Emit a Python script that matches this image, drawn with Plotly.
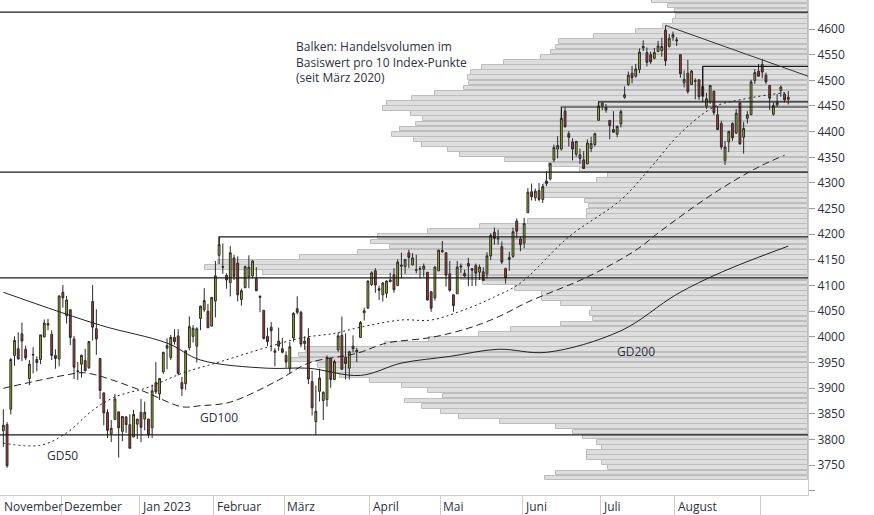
import plotly.graph_objects as go

# S&P 500 daily candles, 8 Nov 2022 - 13 Sep 2023
dates = (
    ["2022-11-%02d" % d for d in [8, 9, 10, 11, 14, 15, 16, 17, 18, 21, 22, 23, 25, 28, 29, 30]]
    + ["2022-12-%02d" % d for d in [1, 2, 5, 6, 7, 8, 9, 12, 13, 14, 15, 16, 19, 20, 21, 22, 23, 27, 28, 29, 30]]
    + ["2023-01-%02d" % d for d in [3, 4, 5, 6, 9, 10, 11, 12, 13, 17, 18, 19, 20, 23, 24, 25, 26, 27, 30, 31]]
    + ["2023-02-%02d" % d for d in [1, 2, 3, 6, 7, 8, 9, 10, 13, 14, 15, 16, 17, 21, 22, 23, 24, 27, 28]]
    + ["2023-03-%02d" % d for d in [1, 2, 3, 6, 7, 8, 9, 10, 13, 14, 15, 16, 17, 20, 21, 22, 23, 24, 27, 28, 29, 30, 31]]
    + ["2023-04-%02d" % d for d in [3, 4, 5, 6, 10, 11, 12, 13, 14, 17, 18, 19, 20, 21, 24, 25, 26, 27, 28]]
    + ["2023-05-%02d" % d for d in [1, 2, 3, 4, 5, 8, 9, 10, 11, 12, 15, 16, 17, 18, 19, 22, 23, 24, 25, 26, 30, 31]]
    + ["2023-06-%02d" % d for d in [1, 2, 5, 6, 7, 8, 9, 12, 13, 14, 15, 16, 20, 21, 22, 23, 26, 27, 28, 29, 30]]
    + ["2023-07-%02d" % d for d in [3, 5, 6, 7, 10, 11, 12, 13, 14, 17, 18, 19, 20, 21, 24, 25, 26, 27, 28, 31]]
    + ["2023-08-%02d" % d for d in [1, 2, 3, 4, 7, 8, 9, 10, 11, 14, 15, 16, 17, 18, 21, 22, 23, 24, 25, 28, 29, 30, 31]]
    + ["2023-09-%02d" % d for d in [1, 5, 6, 7, 8, 11, 12, 13]]
)

opens = [3817, 3829, 3859, 3964, 3977, 4006, 3976, 3919, 3966, 3956, 3956, 4000, 4023, 4005, 3964, 3957,
         4087, 4041, 4053, 3996, 3934, 3947, 3954, 3940, 4069, 4016, 3958, 3891, 3853, 3811, 3839, 3854, 3816, 3844, 3829, 3805, 3830,
         3853, 3840, 3840, 3823, 3911, 3889, 3932, 3978, 3960, 3999, 4002, 3911, 3909, 3979, 4001, 3982, 4036, 4053, 4050, 4021,
         4070, 4159, 4137, 4120, 4106, 4154, 4144, 4073, 4096, 4117, 4119, 4114, 4077, 4052, 4001, 4019, 3973, 3992, 3977,
         3964, 3938, 3998, 4055, 4048, 3987, 3998, 3913, 3835, 3894, 3876, 3878, 3958, 3917, 3975, 4003, 3960, 3939, 3982, 3974, 3999, 4047, 4056,
         4102, 4129, 4094, 4082, 4085, 4111, 4121, 4100, 4140, 4137, 4164, 4140, 4131, 4132, 4132, 4126, 4088, 4076, 4129,
         4166, 4164, 4123, 4082, 4084, 4136, 4124, 4143, 4133, 4139, 4126, 4127, 4123, 4158, 4204, 4191, 4176, 4133, 4155, 4157, 4226, 4191,
         4183, 4242, 4283, 4271, 4285, 4268, 4304, 4308, 4345, 4366, 4366, 4440, 4396, 4380, 4356, 4355, 4345, 4337, 4367, 4375, 4422,
         4450, 4442, 4422, 4404, 4395, 4415, 4467, 4492, 4514, 4508, 4521, 4563, 4554, 4550, 4543, 4556, 4558, 4598, 4566, 4584,
         4579, 4550, 4495, 4514, 4492, 4498, 4501, 4488, 4450, 4458, 4479, 4433, 4416, 4344, 4380, 4416, 4397, 4456, 4389, 4426, 4433, 4500, 4518,
         4531, 4510, 4490, 4434, 4452, 4480, 4473, 4463]
highs = [3859, 3834, 3959, 4001, 4009, 4028, 3983, 3955, 3980, 3962, 4004, 4034, 4035, 4013, 3976, 4080,
         4101, 4080, 4053, 4002, 3951, 3966, 3977, 3991, 4101, 4054, 3958, 3891, 3859, 3838, 3889, 3854, 3845, 3846, 3849, 3858, 3840,
         3879, 3874, 3840, 3907, 3951, 3919, 3971, 3997, 4004, 4015, 4015, 3922, 3974, 4040, 4023, 4019, 4061, 4095, 4064, 4077,
         4148, 4195, 4182, 4124, 4177, 4160, 4157, 4094, 4139, 4159, 4149, 4136, 4081, 4052, 4018, 4029, 3978, 4018, 3998,
         3972, 3990, 4048, 4079, 4051, 4001, 4017, 3934, 3905, 3938, 3894, 3964, 3959, 3956, 4009, 4040, 4007, 3973, 4003, 3979, 4031, 4057, 4110,
         4128, 4134, 4100, 4107, 4110, 4125, 4134, 4151, 4164, 4151, 4170, 4163, 4160, 4138, 4143, 4126, 4089, 4138, 4170,
         4187, 4165, 4148, 4083, 4148, 4143, 4131, 4154, 4133, 4143, 4141, 4136, 4165, 4202, 4213, 4209, 4186, 4135, 4166, 4213, 4231, 4196,
         4232, 4290, 4299, 4289, 4300, 4298, 4323, 4339, 4375, 4391, 4439, 4448, 4401, 4387, 4382, 4367, 4362, 4385, 4390, 4398, 4458,
         4456, 4454, 4422, 4440, 4412, 4443, 4488, 4517, 4528, 4532, 4562, 4578, 4564, 4556, 4563, 4577, 4583, 4607, 4590, 4595,
         4584, 4550, 4519, 4540, 4520, 4504, 4502, 4527, 4476, 4490, 4479, 4450, 4421, 4382, 4402, 4418, 4444, 4458, 4419, 4440, 4501, 4522, 4532,
         4542, 4515, 4490, 4457, 4473, 4490, 4475, 4479]
lows = [3786, 3745, 3849, 3944, 3956, 3953, 3955, 3906, 3929, 3933, 3947, 3999, 4013, 3955, 3938, 3943,
        4057, 4026, 3984, 3918, 3916, 3921, 3933, 3938, 3993, 3965, 3879, 3828, 3803, 3795, 3839, 3765, 3797, 3813, 3783, 3805, 3801,
        3795, 3818, 3803, 3803, 3889, 3877, 3928, 3937, 3955, 3985, 3925, 3885, 3897, 3974, 3989, 3950, 4013, 4049, 4017, 4021,
        4038, 4142, 4123, 4094, 4079, 4111, 4069, 4061, 4095, 4095, 4114, 4089, 4048, 3995, 3982, 3972, 3943, 3973, 3968,
        3940, 3928, 3991, 4044, 3980, 3975, 3908, 3847, 3809, 3874, 3838, 3864, 3901, 3916, 3971, 3936, 3917, 3917, 3970, 3951, 3999, 4032, 4056,
        4099, 4086, 4072, 4069, 4076, 4106, 4086, 4100, 4114, 4123, 4134, 4140, 4124, 4114, 4117, 4071, 4049, 4071, 4128,
        4164, 4098, 4088, 4049, 4084, 4124, 4116, 4099, 4099, 4099, 4111, 4109, 4114, 4150, 4180, 4180, 4142, 4104, 4129, 4154, 4192, 4167,
        4173, 4242, 4266, 4265, 4264, 4261, 4294, 4305, 4341, 4348, 4363, 4407, 4371, 4344, 4351, 4337, 4328, 4337, 4360, 4371, 4422,
        4442, 4437, 4385, 4398, 4389, 4408, 4464, 4489, 4494, 4505, 4514, 4557, 4527, 4532, 4541, 4556, 4546, 4528, 4564, 4577,
        4567, 4505, 4486, 4474, 4491, 4463, 4462, 4457, 4444, 4454, 4432, 4403, 4365, 4335, 4360, 4382, 4396, 4375, 4357, 4416, 4433, 4493, 4507,
        4504, 4493, 4442, 4431, 4448, 4468, 4457, 4453]
closes = [3828, 3749, 3956, 3993, 3957, 3992, 3959, 3947, 3965, 3950, 4004, 4027, 4026, 3964, 3958, 4080,
          4076, 4072, 3999, 3941, 3933, 3964, 3934, 3991, 4019, 3996, 3896, 3852, 3818, 3822, 3879, 3823, 3845, 3829, 3783, 3849, 3840,
          3824, 3853, 3809, 3895, 3893, 3919, 3970, 3983, 3999, 3991, 3929, 3899, 3973, 4020, 4017, 4016, 4060, 4071, 4018, 4077,
          4119, 4180, 4136, 4111, 4164, 4118, 4082, 4090, 4137, 4136, 4148, 4090, 4079, 3997, 3991, 4012, 3970, 3982, 3970,
          3951, 3981, 4046, 4048, 3986, 3992, 3918, 3862, 3855, 3920, 3892, 3960, 3917, 3952, 4002, 3937, 3948, 3971, 3977, 3971, 4028, 4051, 4109,
          4125, 4101, 4091, 4105, 4109, 4108, 4092, 4146, 4138, 4151, 4155, 4154, 4130, 4133, 4138, 4072, 4056, 4136, 4169,
          4168, 4120, 4091, 4061, 4136, 4138, 4119, 4138, 4130, 4124, 4136, 4110, 4158, 4198, 4192, 4192, 4146, 4115, 4151, 4205, 4206, 4180,
          4221, 4282, 4273, 4284, 4268, 4293, 4299, 4338, 4369, 4373, 4426, 4410, 4389, 4366, 4381, 4348, 4328, 4378, 4377, 4396, 4450,
          4456, 4447, 4412, 4399, 4410, 4439, 4472, 4510, 4505, 4522, 4555, 4566, 4535, 4536, 4554, 4567, 4566, 4538, 4582, 4589,
          4577, 4513, 4502, 4478, 4518, 4499, 4468, 4469, 4464, 4490, 4437, 4404, 4370, 4370, 4400, 4388, 4436, 4376, 4406, 4433, 4497, 4515, 4508,
          4516, 4497, 4465, 4451, 4457, 4487, 4462, 4467]

gd50_day = [0, 10, 17, 24, 30, 39, 48, 58, 71, 80, 89, 96, 107, 115, 125, 132, 139, 152, 166, 174, 182, 191, 198, 209, 211]
gd50_val = [3793, 3789, 3813, 3857, 3883, 3902, 3929, 3951, 3980, 3998, 4007, 4019, 4033, 4033, 4056, 4078, 4105, 4195, 4267, 4330, 4397, 4448, 4462, 4475, 4476]
gd100_day = [0, 17, 22, 37, 48, 53, 61, 74, 82, 95, 103, 115, 125, 133, 141, 157, 170, 177, 191, 203, 210]
gd100_val = [3900, 3926, 3930, 3896, 3864, 3866, 3873, 3916, 3949, 3968, 3988, 3999, 4017, 4039, 4068, 4117, 4169, 4208, 4280, 4331, 4354]
gd200_day = [0, 26, 44, 53, 71, 82, 96, 107, 120, 133, 146, 166, 181, 193, 211]
gd200_val = [4087, 4023, 3988, 3955, 3939, 3939, 3925, 3949, 3962, 3976, 3970, 4012, 4083, 4126, 4177]

# volume profile: relative volume per 10 index points (since March 2020)
profile_level = list(range(4655, 3690, -10))
profile_volume = [156, 140, 133, 132, 135, 145, 172, 214, 249, 252, 257, 267, 304, 326, 337, 340, 339, 344, 373, 396,
                  421, 425, 397, 385, 392, 408, 416, 394, 386, 360, 348, 303, 259, 228, 200, 211, 264, 266, 264, 223,
                  219, 221, 221, 280, 328, 380, 430, 437, 418, 450,
                  508, 590, 603, 545, 347, 325, 293, 266, 266, 247, 216, 218, 215, 247, 297, 329, 379, 423,
                  502, 509, 518, 490, 481, 468, 438, 406, 380, 365, 403, 386, 367, 349, 308,
                  252, 235, 225, 211, 206, 221, 221, 206, 200, 252, 263]

# support / resistance levels
full_levels = [4633, 4321, 4115, 3809]
seg_start = ["2023-02-02", "2023-06-15", "2023-06-30", "2023-08-10"]
seg_level = [4195, 4448, 4458, 4527]
trend_start = "2023-07-27"
trend_values = [4607, 4508]

month_starts = ["2022-12-01", "2023-01-03", "2023-02-01", "2023-03-01", "2023-04-03",
                "2023-05-01", "2023-06-01", "2023-07-03", "2023-08-01", "2023-09-01"]
month_labels = ["Dezember", "Jan 2023", "Februar", "März", "April", "Mai", "Juni", "Juli", "August", ""]

y_ticks = list(range(3700, 4601, 50))
y_ticktext = [""] + [str(v) for v in y_ticks[1:]]

FONT = "Open Sans"
TEXT = "#2a3140"
X0, X1 = -0.9, 216.3
days = list(range(len(dates)))

fig = go.Figure()

# profile bars on the base axis (drawn underneath), price marks on the overlay axis
fig.add_trace(go.Bar(
    y=profile_level, x=profile_volume, orientation="h", width=9.2, xaxis="x",
    marker=dict(color="#dedede", line=dict(color="#bdbdbd", width=1)),
    hoverinfo="skip", showlegend=False,
))

for lvl in full_levels:
    fig.add_trace(go.Scatter(x=[X0, X1], y=[lvl, lvl], mode="lines", xaxis="x2",
                             line=dict(color="#1a1a1a", width=1.2), showlegend=False))

for d, lvl in zip(seg_start, seg_level):
    i = dates.index(d)
    fig.add_trace(go.Scatter(x=[i, i, X1], y=[closes[i], lvl, lvl], mode="lines", xaxis="x2",
                             line=dict(color="#1a1a1a", width=1.2), showlegend=False))

fig.add_trace(go.Scatter(x=[dates.index(trend_start), X1], y=trend_values, mode="lines", xaxis="x2",
                         line=dict(color="#333333", width=1), showlegend=False))

fig.add_trace(go.Scatter(x=gd50_day, y=gd50_val, mode="lines", line_shape="spline", xaxis="x2",
                         line=dict(color="#222222", width=1, dash="2px,3px"), showlegend=False))
fig.add_trace(go.Scatter(x=gd100_day, y=gd100_val, mode="lines", line_shape="spline", xaxis="x2",
                         line=dict(color="#222222", width=1, dash="7px,4px"), showlegend=False))
fig.add_trace(go.Scatter(x=gd200_day, y=gd200_val, mode="lines", line_shape="spline", xaxis="x2",
                         line=dict(color="#222222", width=1), showlegend=False))

fig.add_trace(go.Candlestick(
    x=days, open=opens, high=highs, low=lows, close=closes, xaxis="x2",
    increasing=dict(fillcolor="#9fb11e", line=dict(color="#2a2a2a", width=1)),
    decreasing=dict(fillcolor="#b5372b", line=dict(color="#2a2a2a", width=1)),
    whiskerwidth=0, showlegend=False,
))

ann = [
    dict(x=X0, y=0, xref="x2", yref="paper", text="November", xanchor="left", yanchor="top",
         xshift=2, yshift=-1, showarrow=False),
]
for d, lab in zip(month_starts, month_labels):
    ann.append(dict(x=dates.index(d) - 0.5, y=0, xref="x2", yref="paper", text=lab,
                    xanchor="left", yanchor="top", xshift=1, yshift=-1, showarrow=False))
ann += [
    dict(x=16, y=3769, xref="x2", yref="y", text="GD50", showarrow=False, xanchor="center"),
    dict(x=58, y=3843, xref="x2", yref="y", text="GD100", showarrow=False, xanchor="center"),
    dict(x=170, y=3972, xref="x2", yref="y", text="GD200", showarrow=False, xanchor="center"),
    dict(x=78, y=4586, xref="x2", yref="y",
         text="Balken: Handelsvolumen im<br>Basiswert pro 10 Index-Punkte<br>(seit März 2020)",
         showarrow=False, xanchor="left", yanchor="top", align="left"),
]
for a in ann:
    a.setdefault("font", dict(family=FONT, size=12, color=TEXT))

fig.update_layout(
    width=874, height=515,
    margin=dict(l=0, r=66, t=0, b=20),
    paper_bgcolor="white", plot_bgcolor="white",
    font=dict(family=FONT, size=12, color=TEXT),
    xaxis=dict(range=[808, 0], visible=False, fixedrange=True),
    xaxis2=dict(overlaying="x", range=[X0, X1], rangeslider=dict(visible=False), showgrid=False,
                zeroline=False, side="bottom",
                tickvals=[dates.index(d) - 0.5 for d in month_starts], ticktext=[""] * len(month_starts),
                ticks="outside", ticklen=20, tickcolor="#cccccc", showline=True, linecolor="#cccccc"),
    yaxis=dict(side="right", range=[3692, 4656.5], tickvals=y_ticks, ticktext=y_ticktext,
               showgrid=False, zeroline=False, ticks="outside", ticklen=6, tickcolor="#999999",
               showline=True, linecolor="#cccccc", tickfont=dict(size=12, color=TEXT)),
    annotations=ann,
    bargap=0,
)

fig.write_html("out.html", config={"displayModeBar": False},
               post_script="document.body.style.margin='0';")
